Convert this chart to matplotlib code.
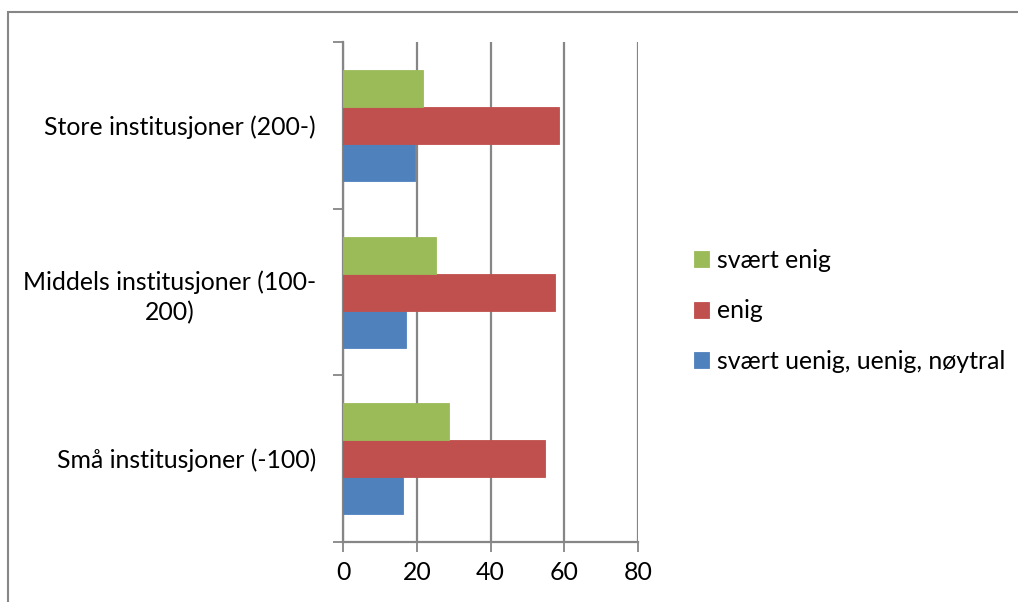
import matplotlib
matplotlib.use("Agg")
import matplotlib.pyplot as plt
from matplotlib.patches import Rectangle
from matplotlib.ticker import FixedLocator
import numpy as np

plt.rcParams['font.family'] = ['Lato', 'DejaVu Sans']

categories = ["Små institusjoner (-100)", "Middels institusjoner (100-\n200)", "Store institusjoner (200-)"]
series = ["svært uenig, uenig, nøytral", "enig", "svært enig"]
uenig = [16.3, 17.2, 19.5]
enig = [54.7, 57.4, 58.7]
svaert_enig = [28.8, 25.3, 21.6]
colors = ["#4F81BD", "#C0504D", "#9BBB59"]
xticks = [0, 20, 40, 60, 80]

W, H = 1018, 602
FS = 17.9
fig = plt.figure(figsize=(W / 100, H / 100), dpi=100)
ax = fig.add_axes([343 / W, 1 - 542 / H, (638 - 343) / W, 500 / H])

y = np.arange(len(categories))
h = 0.222
values = [uenig, enig, svaert_enig]
bars = []
for i, (vals, col, name) in enumerate(zip(values, colors, series)):
    b = ax.barh(y + (i - 1) * h, vals, height=h, color=col, label=name,
                edgecolor=col, linewidth=0.6, zorder=3)
    bars.append(b)

ax.set_xlim(0, 80)
ax.set_ylim(-0.5, 2.5)
ax.set_xticks(xticks)
ax.set_xticklabels([str(v) for v in xticks], fontsize=FS)
ax.xaxis.grid(True, color="#868686", linewidth=1.6, zorder=0)

ax.yaxis.set_major_locator(FixedLocator([-0.5, 0.5, 1.5, 2.5]))
ax.yaxis.set_minor_locator(FixedLocator(y))
ax.set_yticklabels([], minor=False)
ax.set_yticklabels(categories, minor=True, fontsize=FS, ha="right",
                   multialignment="center", linespacing=1.35)
ax.tick_params(axis="y", which="minor", length=0, pad=19.5)
ax.tick_params(axis="y", which="major", length=7, width=1.3, color="#868686")
ax.tick_params(axis="x", length=7, width=1.3, color="#868686", pad=7)

for s in ["top", "right"]:
    ax.spines[s].set_visible(False)
for s in ["left", "bottom"]:
    ax.spines[s].set_color("#868686")
    ax.spines[s].set_linewidth(1.6)

handles = [bars[2], bars[1], bars[0]]
leg = fig.legend(handles, [series[2], series[1], series[0]],
                 loc="center left", bbox_to_anchor=(672 / W, 1 - 311 / H),
                 frameon=False, fontsize=FS, handlelength=0.6, handleheight=0.6,
                 handletextpad=0.3, labelspacing=1.1)

fig.add_artist(Rectangle((8 / W, -0.1), 1.2, 1 - 12 / H + 0.1, transform=fig.transFigure,
                         fill=False, edgecolor="#868686", linewidth=1.5))

fig.savefig("out.png", dpi=100)
